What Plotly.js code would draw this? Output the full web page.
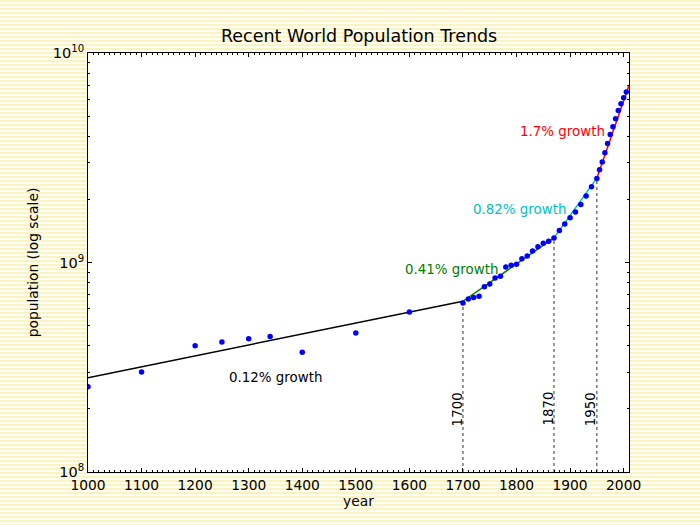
<!DOCTYPE html>
<html>
<head>
<meta charset="utf-8">
<script src="https://cdn.plot.ly/plotly-3.0.1.min.js"></script>
<style>
  html, body { margin: 0; padding: 0; }
  body {
    width: 700px; height: 525px; overflow: hidden;
    background: repeating-linear-gradient(to bottom, #fbf3c0 0px, #fbf3c0 2px, #fffef4 2px, #fffef4 4px);
  }
  #chart { width: 700px; height: 525px; }
</style>
</head>
<body>
<div id="chart"></div>
<script>
// World population estimates (people)
const years = [1000, 1100, 1200, 1250, 1300, 1340, 1400, 1500, 1600,
  1700, 1710, 1720, 1730, 1740, 1750, 1760, 1770, 1780, 1790, 1800,
  1810, 1820, 1830, 1840, 1850, 1860, 1870, 1880, 1890, 1900,
  1910, 1920, 1930, 1940, 1950, 1955, 1960, 1965, 1970, 1975,
  1980, 1985, 1990, 1995, 2000, 2005];
const population = [255e6, 300e6, 400e6, 417e6, 432e6, 443e6, 373e6, 461e6, 581e6,
  640e6, 670e6, 680e6, 690e6, 767e6, 790e6, 844e6, 859e6, 952e6, 970e6, 980e6,
  1042e6, 1074e6, 1134e6, 1190e6, 1235e6, 1262e6, 1309e6, 1421e6, 1526e6, 1635e6,
  1741e6, 1894e6, 2075e6, 2298e6, 2520e6, 2770e6, 3020e6, 3340e6, 3700e6, 4080e6,
  4450e6, 4850e6, 5310e6, 5720e6, 6120e6, 6510e6];

// Piecewise exponential trend: era boundaries and annual growth rates
const eraBounds = [1000, 1700, 1870, 1950, 2010];
const eraRates = [0.0012, 0.0041, 0.0082, 0.017];
const eraLabels = ['0.12% growth', '0.41% growth', '0.82% growth', '1.7% growth'];
const eraColors = ['#000000', '#008000', '#00bfbf', '#ff0000'];
const trendStart = 282e6;

// Marked turning points
const markerYears = [1700, 1870, 1950];

// Label positions for each era's growth annotation (year, population)
const labelYears = [1350, 1679, 1806, 1885];
const labelPops = [2.815e8, 9.3e8, 1.79e9, 4.22e9];

const yMajor = [1e8, 1e9, 1e10];
const yMajorText = ['10<sup>8</sup>', '10<sup>9</sup>', '10<sup>10</sup>'];

// trend value at a given year
function trendAt(yr) {
  let p = trendStart;
  for (let i = 0; i < eraRates.length; i++) {
    const a = eraBounds[i], b = eraBounds[i + 1];
    if (yr <= b) return p * Math.exp(eraRates[i] * (yr - a));
    p = p * Math.exp(eraRates[i] * (b - a));
  }
  return p;
}

const traces = [];
for (let i = 0; i < eraRates.length; i++) {
  traces.push({
    x: [eraBounds[i], eraBounds[i + 1]],
    y: [trendAt(eraBounds[i]), trendAt(eraBounds[i + 1])],
    mode: 'lines', type: 'scatter', hoverinfo: 'skip',
    line: { color: eraColors[i], width: 1.5 }
  });
}
markerYears.forEach(yr => {
  traces.push({
    x: [yr, yr], y: [1e8, trendAt(yr)],
    mode: 'lines', type: 'scatter', hoverinfo: 'skip',
    line: { color: '#444444', width: 1.1, dash: 'dot' }
  });
});
traces.push({
  x: years, y: population, mode: 'markers', type: 'scatter',
  marker: { color: '#0000ff', size: 5.5 }
});

const annotations = [];
for (let i = 0; i < eraLabels.length; i++) {
  annotations.push({
    x: labelYears[i], y: Math.log10(labelPops[i]), xref: 'x', yref: 'y',
    text: eraLabels[i], showarrow: false,
    font: { family: 'DejaVu Sans', size: 13.4, color: eraColors[i] },
    xanchor: 'center', yanchor: 'middle'
  });
}
markerYears.forEach(yr => {
  annotations.push({
    x: yr, y: Math.log10(2.0e8), xref: 'x', yref: 'y',
    text: String(yr), showarrow: false, textangle: -90,
    font: { family: 'DejaVu Sans', size: 13.4, color: '#000000' },
    xanchor: 'center', yanchor: 'middle', xshift: -5.5
  });
});

const yMinor = [];
[8, 9].forEach(d => { for (let k = 2; k <= 9; k++) yMinor.push(k * Math.pow(10, d)); });

const layout = {
  width: 700, height: 525,
  margin: { l: 88, r: 70.7, t: 52.7, b: 52.7 },
  paper_bgcolor: 'rgba(0,0,0,0)',
  plot_bgcolor: '#ffffff',
  showlegend: false,
  font: { family: 'DejaVu Sans', color: '#000000' },
  title: {
    text: 'Recent World Population Trends',
    font: { family: 'DejaVu Sans', size: 17.5, color: '#000000' },
    x: 0.513, xanchor: 'center', y: 0.931, yanchor: 'middle'
  },
  xaxis: {
    range: [1000, 2010], tick0: 1000, dtick: 100,
    showgrid: false, zeroline: false,
    showline: true, linecolor: '#000000', linewidth: 1, mirror: 'allticks',
    ticks: 'inside', ticklen: 4, tickcolor: '#000000',
    tickfont: { family: 'DejaVu Sans', size: 13.8, color: '#000000' },
    minor: { dtick: 10, ticks: 'inside', ticklen: 2, tickcolor: '#000000', showgrid: false },
    title: { text: 'year', font: { family: 'DejaVu Sans', size: 13.8, color: '#000000' }, standoff: 4 }
  },
  yaxis: {
    type: 'log', range: [8, 10],
    tickmode: 'array', tickvals: yMajor, ticktext: yMajorText,
    showgrid: false, zeroline: false,
    showline: true, linecolor: '#000000', linewidth: 1, mirror: 'allticks',
    ticks: 'inside', ticklen: 4, tickcolor: '#000000',
    tickfont: { family: 'DejaVu Sans', size: 14.5, color: '#000000' },
    minor: { tickmode: 'array', tickvals: yMinor, ticks: 'inside', ticklen: 2, tickcolor: '#000000', showgrid: false },
    title: { text: 'population (log scale)', font: { family: 'DejaVu Sans', size: 13.8, color: '#000000' }, standoff: 10 }
  },
  annotations: annotations
};

Plotly.newPlot('chart', traces, layout, { displayModeBar: false, staticPlot: true });
</script>
</body>
</html>
